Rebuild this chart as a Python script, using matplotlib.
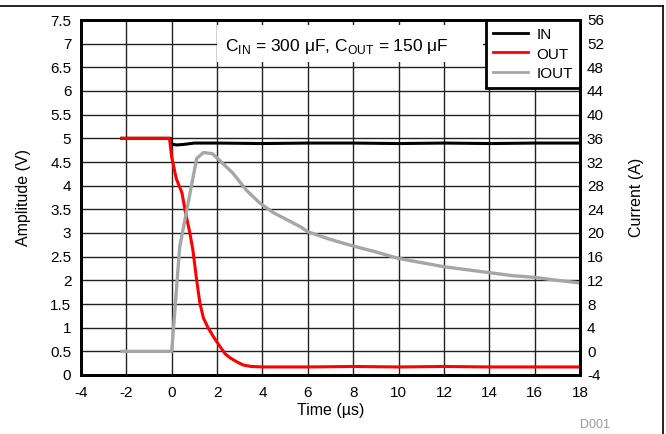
import matplotlib
matplotlib.use("Agg")
import matplotlib.pyplot as plt
from matplotlib.lines import Line2D
from matplotlib.patches import Rectangle

plt.rcParams['font.family'] = ['Liberation Sans', 'DejaVu Sans']

# Data
t_in = [-2.2, -0.05, 0.0, 0.2, 0.5, 1.0, 2.0, 4.0, 6.0, 8.0, 10.0, 12.0, 14.0, 16.0, 17.9]
v_in = [5.0, 5.0, 4.88, 4.86, 4.87, 4.9, 4.9, 4.89, 4.9, 4.9, 4.89, 4.9, 4.89, 4.9, 4.9]

t_out = [-2.2, -0.1, 0.0, 0.2, 0.45, 0.6, 0.8, 0.93, 1.1, 1.24, 1.4, 1.6, 1.85,
         2.13, 2.35, 2.58, 2.9, 3.16, 3.5, 4.0, 6.0, 8.0, 10.0, 12.0, 14.0, 16.0, 17.9]
v_out = [5.0, 5.0, 4.6, 4.15, 3.85, 3.45, 3.0, 2.65, 2.0, 1.52, 1.2, 1.0, 0.8,
         0.6, 0.45, 0.36, 0.27, 0.21, 0.18, 0.17, 0.17, 0.18, 0.17, 0.18, 0.17, 0.17, 0.17]

t_iout = [-2.2, 0.0, 0.35, 1.1, 1.4, 1.8, 2.13, 2.7, 3.3, 3.9, 4.5, 5.1, 5.7, 6.0,
          7.0, 8.0, 9.0, 10.0, 11.0, 12.0, 13.0, 14.0, 15.0, 16.0, 17.0, 17.9]
a_iout = [0.0, 0.0, 17.6, 32.6, 33.6, 33.4, 32.2, 30.1, 27.2, 25.0, 23.4, 22.2, 21.0, 20.2,
          18.9, 17.8, 16.8, 15.7, 15.0, 14.3, 13.8, 13.3, 12.8, 12.5, 12.0, 11.6]

x_ticks = list(range(-4, 19, 2))
v_ticks = [i * 0.5 for i in range(16)]
v_labels = ['0', '0.5', '1', '1.5', '2', '2.5', '3', '3.5', '4', '4.5', '5', '5.5', '6', '6.5', '7', '7.5']
a_ticks = list(range(-4, 57, 4))

fig = plt.figure(figsize=(6.66, 4.34), dpi=100)
ax = fig.add_axes([81/666, 1-375/434, 499/666, 355/434])
ax2 = ax.twinx()

FS = 11
ax.set_xlim(-4, 18)
ax.set_ylim(0, 7.5)
ax2.set_ylim(-4, 56)
ax.set_xticks(x_ticks)
ax.set_xticklabels([str(v) for v in x_ticks], fontsize=FS)
ax.set_yticks(v_ticks)
ax.set_yticklabels(v_labels, fontsize=FS)
ax2.set_yticks(a_ticks)
ax2.set_yticklabels([str(v) for v in a_ticks], fontsize=FS)
ax.tick_params(length=0, pad=7)
ax.tick_params(axis='x', pad=8)
ax2.tick_params(length=0, pad=5)

ax.grid(True, color='#222222', linewidth=1.0)
ax.set_axisbelow(True)

# white background behind annotation
ax.add_patch(Rectangle((0.2725, 0.882), 0.534, 0.103, transform=ax.transAxes,
                       facecolor='white', edgecolor='none', zorder=1))
ax.text(0.512, 0.925, r'C$_{\mathregular{IN}}$ = 300 $\mathregular{\mu}$F, C$_{\mathregular{OUT}}$ = 150 $\mathregular{\mu}$F',
        transform=ax.transAxes, ha='center', va='center', fontsize=12.5, zorder=3)

l_in, = ax.plot(t_in, v_in, color='black', linewidth=2.2, zorder=2)
l_out, = ax.plot(t_out, v_out, color='#ff0000', linewidth=2.2, zorder=2.5)
l_iout, = ax2.plot(t_iout, a_iout, color='#a6a6a6', linewidth=2.4)

for s in list(ax.spines.values()) + list(ax2.spines.values()):
    s.set_linewidth(2.0)
    s.set_color('black')

ax.set_xlabel('Time (\u00b5s)', fontsize=11.5, labelpad=2)
ax.set_ylabel('Amplitude (V)', fontsize=11.5, labelpad=14)
ax2.set_ylabel('Current (A)', fontsize=11.5, rotation=90, labelpad=18)

leg = ax2.legend([l_in, l_out, l_iout], ['IN', 'OUT', 'IOUT'], loc='upper right',
                 fontsize=FS, frameon=True, fancybox=False, borderaxespad=0,
                 handlelength=2.3, handleheight=1.1, handletextpad=0.55,
                 labelspacing=0.25, borderpad=0.45)
leg.get_frame().set_edgecolor('black')
leg.get_frame().set_linewidth(2.0)
leg.get_frame().set_alpha(1)
for h in leg.get_lines():
    h.set_linewidth(2.0)

fig.text(595/666, 1-425/434, 'D001', color='#999999', fontsize=9, ha='center', va='center')

# figure frame lines (top and right)
fig.add_artist(Line2D([0, 663/666], [1-6/434, 1-6/434], transform=fig.transFigure, color='black', linewidth=1.2))
fig.add_artist(Line2D([663/666, 663/666], [0, 1-6/434], transform=fig.transFigure, color='black', linewidth=1.2))

fig.savefig('out.png', dpi=100)
